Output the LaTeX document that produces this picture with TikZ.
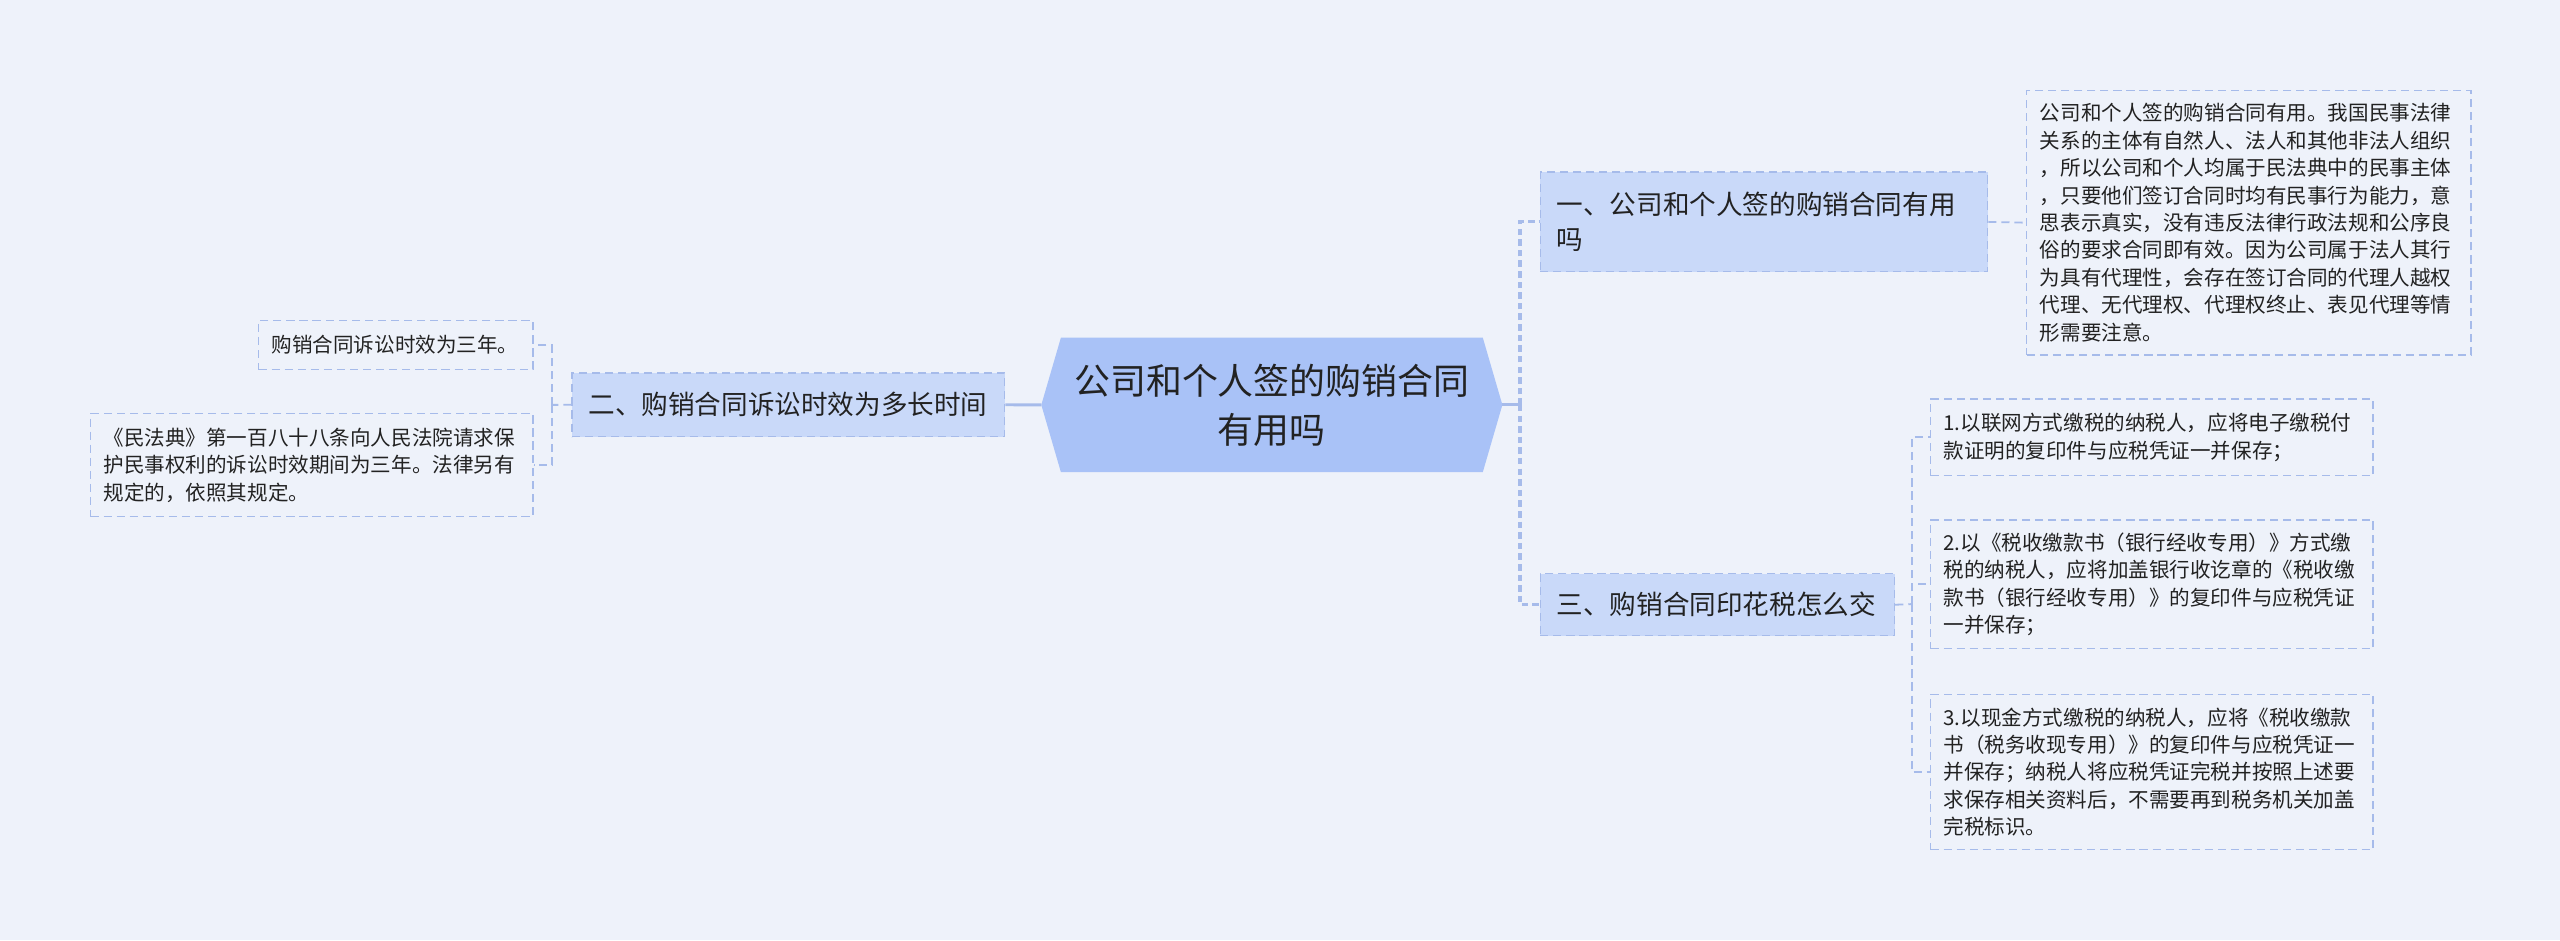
\documentclass[tikz,border=0pt]{standalone}
\usepackage{fontspec}
\setmainfont{Noto Sans CJK SC}
\usetikzlibrary{calc}
\definecolor{bg}{HTML}{EEF2FA}
\definecolor{lnc}{HTML}{A6BBEA}
\definecolor{cfill}{HTML}{A9C2F7}
\definecolor{bfill}{HTML}{C9D9F9}
\definecolor{txt}{HTML}{222222}
\begin{document}
\begin{tikzpicture}[x=1pt,y=-1pt,
  every node/.style={text=txt, inner sep=0pt},
  ln/.style={draw=lnc, line width=1.1pt, dash pattern=on 5pt off 3pt},
  lnmain/.style={draw=lnc, line width=1.9pt, dash pattern=on 4pt off 2.5pt},
  lnsolid/.style={draw=lnc, line width=1.8pt},
  boxbase/.style={draw=lnc, line width=0.8pt, dash pattern=on 5pt off 3pt, align=left, anchor=north west, inner xsep=8pt},
  leaf/.style={boxbase, fill=bg, font=\fontsize{12.6}{16.8}\selectfont},
  branch/.style={boxbase, fill=bfill, inner xsep=10pt, font=\fontsize{16.3}{21}\selectfont},
]
\fill[bg] (0,0) rectangle (1568,576);
\useasboundingbox (0,0) rectangle (1568,576);

% central
\node[minimum width=282pt, minimum height=82pt] (c) at (779,248) {};
\fill[cfill] (c.west) -- ([xshift=12pt]c.north west) -- ([xshift=-12pt]c.north east)
   -- (c.east) -- ([xshift=-12pt]c.south east) -- ([xshift=12pt]c.south west) -- cycle;
\node[align=center, font=\fontsize{22}{30}\selectfont, text=txt] at (c.center) {公司和个人签的购销合同\\有用吗};

% branches
\node[branch, minimum width=274pt, minimum height=61pt, text width=254pt] (b1) at (943,105)
  {一、公司和个人签的购销合同有用\\吗};
\node[branch, minimum width=265pt, minimum height=39pt, text width=245pt] (b2) at (350,228)
  {二、购销合同诉讼时效为多长时间};
\node[branch, minimum width=217pt, minimum height=38pt, text width=197pt] (b3) at (943,351)
  {三、购销合同印花税怎么交};

% leaves
\node[leaf, minimum width=272pt, minimum height=162pt, text width=256pt] (r1) at (1241,55)
  {公司和个人签的购销合同有用。我国民事法律\\关系的主体有自然人、法人和其他非法人组织\\，所以公司和个人均属于民法典中的民事主体\\，只要他们签订合同时均有民事行为能力，意\\思表示真实，没有违反法律行政法规和公序良\\俗的要求合同即有效。因为公司属于法人其行\\为具有代理性，会存在签订合同的代理人越权\\代理、无代理权、代理权终止、表见代理等情\\形需要注意。};
\node[leaf, minimum width=271pt, minimum height=47pt, text width=255pt] (t1) at (1182,244)
  {1.以联网方式缴税的纳税人，应将电子缴税付\\款证明的复印件与应税凭证一并保存；};
\node[leaf, minimum width=271pt, minimum height=79pt, text width=255pt] (t2) at (1182,318)
  {2.以《税收缴款书（银行经收专用）》方式缴\\税的纳税人，应将加盖银行收讫章的《税收缴\\款书（银行经收专用）》的复印件与应税凭证\\一并保存；};
\node[leaf, minimum width=271pt, minimum height=95pt, text width=255pt] (t3) at (1182,425)
  {3.以现金方式缴税的纳税人，应将《税收缴款\\书（税务收现专用）》的复印件与应税凭证一\\并保存；纳税人将应税凭证完税并按照上述要\\求保存相关资料后，不需要再到税务机关加盖\\完税标识。};
\node[leaf, minimum width=168pt, minimum height=30pt, text width=152pt] (la) at (158,196)
  {购销合同诉讼时效为三年。};
\node[leaf, minimum width=271pt, minimum height=63pt, text width=255pt] (lb) at (55,253)
  {《民法典》第一百八十八条向人民法院请求保\\护民事权利的诉讼时效期间为三年。法律另有\\规定的，依照其规定。};

% connectors
\coordinate (rj) at (931,248);
\coordinate (lj) at (338,248);
\coordinate (tj) at (1171,370);
\draw[lnsolid] (c.east) -- (rj);
\draw[lnmain] (rj) |- (b1.west);
\draw[lnmain] (rj) |- (b3.west);
\draw[lnsolid] (c.west) -- (b2.east);
\draw[ln] (b2.west) -- (lj);
\draw[ln] (lj) |- (la.east);
\draw[ln] (lj) |- (lb.east);
\draw[ln] (b1.east) -- (r1.west);
\draw[ln] (b3.east) -- (tj);
\draw[ln] (tj) |- (t1.west);
\draw[ln] (tj) |- (t2.west);
\draw[ln] (tj) |- (t3.west);
\end{tikzpicture}
\end{document}
